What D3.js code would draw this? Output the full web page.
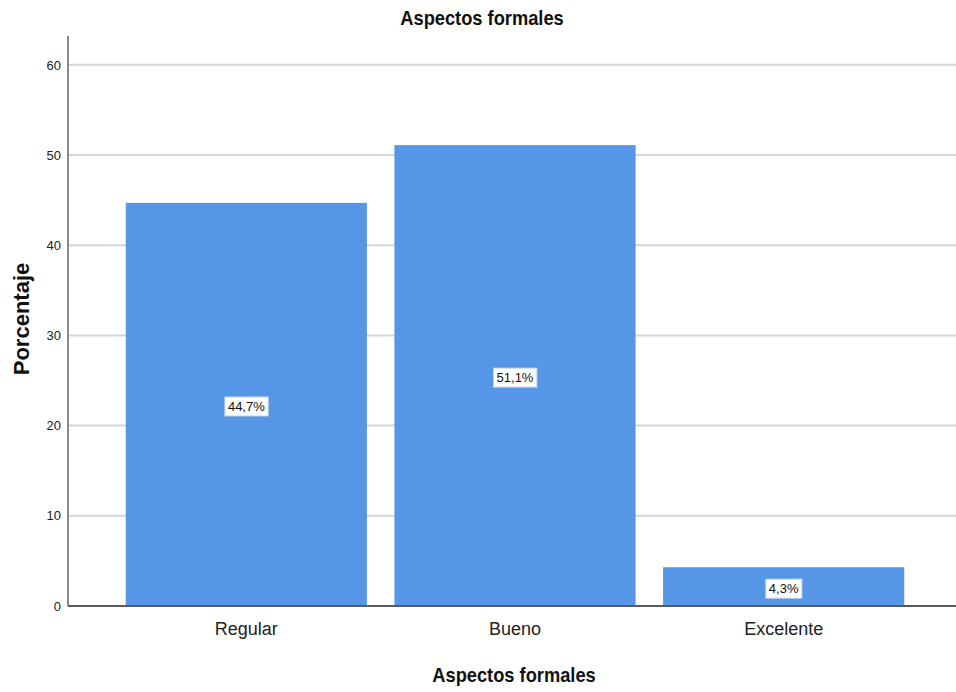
<!DOCTYPE html>
<html>
<head>
<meta charset="utf-8">
<script src="https://cdn.jsdelivr.net/npm/d3@7"></script>
<style>
  html, body { margin: 0; padding: 0; background: #fff; }
  svg { display: block; }
  .narrow { font-family: "Liberation Sans Narrow", "Arial Narrow", "Liberation Sans", Arial, sans-serif; }
  .wide { font-family: "Liberation Sans", Arial, sans-serif; }
</style>
</head>
<body>
<svg id="chart" width="956" height="692"></svg>
<script>
// Frequency table: "Aspectos formales"
const categories = ["Regular", "Bueno", "Excelente"];
const percentages = [44.7, 51.1, 4.3];
const valueLabels = ["44,7%", "51,1%", "4,3%"];
const yTicks = [0, 10, 20, 30, 40, 50, 60];

const chartTitle = "Aspectos formales";
const xTitle = "Aspectos formales";
const yTitle = "Porcentaje";

const W = 956, H = 692;
const plot = { left: 68, right: 956, top: 36, bottom: 606 };

const svg = d3.select("#chart");

const x = d3.scaleBand()
  .domain(categories)
  .range([112, 918])
  .paddingInner(0.1024)
  .paddingOuter(0.0512);

const y = d3.scaleLinear()
  .domain([0, 63.2])
  .range([plot.bottom, plot.top]);

// Horizontal gridlines
svg.append("g")
  .selectAll("line")
  .data(yTicks.filter(d => d > 0))
  .join("line")
  .attr("x1", plot.left)
  .attr("x2", plot.right)
  .attr("y1", d => y(d))
  .attr("y2", d => y(d))
  .attr("stroke", "#d6d6d6")
  .attr("stroke-width", 2);

// Bars
svg.append("g")
  .selectAll("rect")
  .data(categories)
  .join("rect")
  .attr("x", d => x(d))
  .attr("width", x.bandwidth())
  .attr("y", (d, i) => y(percentages[i]))
  .attr("height", (d, i) => y(0) - y(percentages[i]))
  .attr("fill", "#5596e6");

// Y axis (line + tick labels, no tick marks)
const yAxis = d3.axisLeft(y).tickValues(yTicks).tickSize(0).tickPadding(7).tickFormat(d3.format("d"));
const gy = svg.append("g")
  .attr("transform", `translate(${plot.left},0)`)
  .call(yAxis);
gy.select(".domain").remove();
gy.selectAll("text")
  .attr("class", "narrow")
  .attr("font-size", 13)
  .attr("fill", "#222");
svg.append("line")
  .attr("x1", plot.left).attr("x2", plot.left)
  .attr("y1", plot.top).attr("y2", plot.bottom)
  .attr("stroke", "#8a8a8a").attr("stroke-width", 2);

// X axis
const xAxis = d3.axisBottom(x).tickSize(0).tickPadding(16);
const gx = svg.append("g")
  .attr("transform", `translate(0,${plot.bottom})`)
  .call(xAxis);
gx.select(".domain").remove();
gx.selectAll("text")
  .attr("class", "wide")
  .attr("font-size", 18)
  .attr("fill", "#222");
svg.append("line")
  .attr("x1", plot.left).attr("x2", plot.right)
  .attr("y1", plot.bottom).attr("y2", plot.bottom)
  .attr("stroke", "#5a5a5a").attr("stroke-width", 2);

// Value labels in white boxes at bar mid-height
const lab = svg.append("g")
  .selectAll("g")
  .data(categories)
  .join("g")
  .attr("transform", (d, i) => {
    const cx = x(d) + x.bandwidth() / 2;
    const cy = (y(percentages[i]) + y(0)) / 2 + 2;
    return `translate(${cx},${cy})`;
  });
lab.append("text")
  .attr("class", "narrow")
  .attr("font-size", 13)
  .attr("text-anchor", "middle")
  .attr("dy", "0.35em")
  .attr("fill", "#111")
  .text((d, i) => valueLabels[i]);
lab.each(function () {
  const g = d3.select(this);
  const bb = g.select("text").node().getBBox();
  g.insert("rect", "text")
    .attr("x", bb.x - 3)
    .attr("y", bb.y - 2)
    .attr("width", bb.width + 6)
    .attr("height", bb.height + 4)
    .attr("fill", "#fff")
    .attr("stroke", "#c8d6ea")
    .attr("stroke-width", 1);
});

// Titles (condensed bold, horizontally compressed)
svg.append("text")
  .attr("class", "narrow")
  .attr("transform", "translate(482,25) scale(0.87,1)")
  .attr("text-anchor", "middle")
  .attr("font-size", 21)
  .attr("font-weight", "bold")
  .attr("fill", "#111")
  .text(chartTitle);

svg.append("text")
  .attr("class", "narrow")
  .attr("transform", "translate(514,682) scale(0.87,1)")
  .attr("text-anchor", "middle")
  .attr("font-size", 21)
  .attr("font-weight", "bold")
  .attr("fill", "#111")
  .text(xTitle);

svg.append("text")
  .attr("class", "wide")
  .attr("transform", "translate(29,319) rotate(-90)")
  .attr("text-anchor", "middle")
  .attr("font-size", 22)
  .attr("font-weight", "bold")
  .attr("fill", "#111")
  .text(yTitle);
</script>
</body>
</html>
